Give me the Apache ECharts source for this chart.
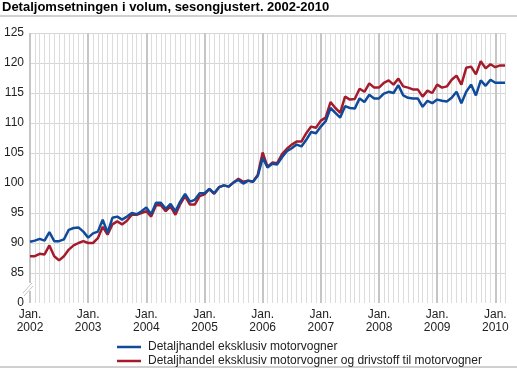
<!DOCTYPE html>
<html><head><meta charset="utf-8">
<script src="https://cdn.jsdelivr.net/npm/echarts@6/dist/echarts.min.js"></script>
<style>html,body{margin:0;padding:0;background:#fff}#c{width:517px;height:371px}</style>
</head><body><div id="c"></div>
<script>
const titleText = 'Detaljomsetningen i volum, sesongjustert. 2002-2010';
const years = [2002, 2003, 2004, 2005, 2006, 2007, 2008, 2009, 2010];
const lastMonth2010 = 3;
const yTicks = [0, 85, 90, 95, 100, 105, 110, 115, 120, 125];
const nameBlue = 'Detaljhandel eksklusiv motorvogner';
const nameRed = 'Detaljhandel eksklusiv motorvogner og drivstoff til motorvogner';

// Monthly values, Jan 2002 - Mar 2010
const blueValues = [
  90.2, 90.4, 90.7, 90.4, 91.8, 90.3, 90.3, 90.6, 92.2, 92.5, 92.6, 91.9,
  90.9, 91.6, 91.9, 93.9, 91.7, 94.2, 94.4, 93.9, 94.4, 95.0, 94.8, 95.3,
  95.9, 94.8, 96.7, 96.7, 95.7, 96.5, 95.3, 96.9, 98.2, 96.9, 97.2, 98.3,
  98.3, 99.0, 98.3, 99.3, 99.6, 99.4, 100.1, 100.5, 99.9, 100.4, 100.2, 101.2,
  104.2, 102.6, 103.2, 103.1, 104.3, 105.3, 105.8, 106.4, 106.1, 107.2, 108.5, 108.3,
  109.4, 110.3, 112.5, 111.7, 110.9, 112.8, 112.5, 112.4, 114.1, 113.5, 114.7, 114.1,
  114.1, 114.9, 115.2, 115.0, 116.3, 114.6, 114.2, 114.1, 114.1, 112.7, 113.7, 113.3,
  113.9, 113.7, 113.6, 114.2, 115.2, 113.3, 115.2, 116.4, 114.6, 117.1, 116.2, 117.2,
  116.7, 116.7, 116.7
];
const redValues = [
  87.8, 87.8, 88.2, 88.1, 89.6, 87.8, 87.1, 87.8, 88.9, 89.6, 90.0, 90.3,
  90.0, 90.0, 90.8, 92.7, 91.4, 93.1, 93.6, 93.1, 93.7, 94.7, 94.7, 95.0,
  95.3, 94.4, 96.3, 96.3, 95.3, 96.1, 94.7, 96.5, 97.8, 96.4, 96.4, 97.8,
  98.1, 99.0, 98.2, 99.3, 99.6, 99.4, 100.1, 100.7, 100.2, 100.4, 100.2, 101.4,
  105.1, 102.7, 103.4, 103.3, 104.8, 105.7, 106.4, 106.9, 106.9, 108.3, 109.4, 109.2,
  110.4, 110.9, 113.5, 112.5, 111.7, 114.4, 113.9, 114.0, 115.7, 115.2, 116.6, 115.9,
  115.9, 116.7, 117.1, 116.4, 117.4, 116.1, 115.9, 115.6, 115.6, 114.4, 115.4, 115.0,
  116.4, 115.9, 116.1, 117.2, 117.9, 116.4, 119.2, 119.4, 118.1, 120.3, 119.1, 119.8,
  119.3, 119.6, 119.6
];

const categories = [];
years.forEach(y => {
  const n = y === 2010 ? lastMonth2010 : 12;
  for (let m = 1; m <= n; m++) categories.push(y + '-' + (m < 10 ? '0' + m : m));
});

const axisMin = 80; // stands for the broken-axis "0"
const font = "'Liberation Sans', Arial, sans-serif";
const chart = echarts.init(document.getElementById('c'), null, {renderer: 'canvas'});
const isJan = i => i % 12 === 0;
const blue = '#0f4a9b', red = '#a51b2c';

const legendBase = {
  orient: 'horizontal', left: 112, itemGap: 0, itemWidth: 24, itemHeight: 2.5, icon: 'rect',
  textStyle: {fontSize: 12, color: '#222', fontFamily: font, padding: [0, 0, 0, 2]}
};

chart.setOption({
  animation: false,
  backgroundColor: '#fff',
  textStyle: {fontFamily: font},
  title: {
    text: titleText, left: 2, top: 1, padding: 0,
    textStyle: {fontSize: 13, fontWeight: 'bold', color: '#000', fontFamily: font}
  },
  grid: {left: 30, right: 12, top: 33, bottom: 68, containLabel: false},
  legend: [
    Object.assign({}, legendBase, {top: 336, data: [nameBlue]}),
    Object.assign({}, legendBase, {top: 350, data: [nameRed]})
  ],
  xAxis: [{
    type: 'category', data: categories, boundaryGap: false,
    axisLine: {show: false}, axisTick: {show: false},
    axisLabel: {
      interval: (i) => isJan(i), color: '#222', fontSize: 12, lineHeight: 13, margin: 5,
      fontFamily: font,
      formatter: v => 'Jan.\n' + v.slice(0, 4)
    },
    splitLine: {show: true, interval: 0, lineStyle: {color: '#dcdcdc', width: 1}}
  }, {
    type: 'category', data: categories, boundaryGap: false, position: 'bottom',
    axisLine: {show: false}, axisTick: {show: false}, axisLabel: {show: false},
    splitLine: {show: true, interval: (i) => isJan(i), lineStyle: {color: '#c6c6c6', width: 2}}
  }],
  yAxis: {
    type: 'value', min: axisMin, max: 125, interval: 5,
    axisLine: {show: false}, axisTick: {show: false},
    axisLabel: {
      color: '#222', fontSize: 12, margin: 6, fontFamily: font,
      formatter: v => (v === axisMin ? String(yTicks[0]) : (yTicks.indexOf(v) >= 0 ? String(v) : ''))
    },
    splitLine: {show: true, lineStyle: {
      color: ['rgba(0,0,0,0)', '#d6d6d6', '#d6d6d6', '#d6d6d6', '#d6d6d6', '#d6d6d6', '#d6d6d6', '#d6d6d6', '#d6d6d6', '#d6d6d6'],
      width: 1
    }}
  },
  series: [{
    name: nameRed, type: 'line', data: redValues, symbol: 'none', showSymbol: false,
    lineStyle: {color: red, width: 2.5}, itemStyle: {color: red}
  }, {
    name: nameBlue, type: 'line', data: blueValues, symbol: 'none', showSymbol: false,
    lineStyle: {color: blue, width: 2.5}, itemStyle: {color: blue}
  }]
});

// decorations: title rule, bottom rule, axis break mark
const x0 = chart.convertToPixel({xAxisIndex: 0}, categories[0]);
const y85 = chart.convertToPixel({yAxisIndex: 0}, 85);
const y80 = chart.convertToPixel({yAxisIndex: 0}, axisMin);
const ym = (y85 + y80) / 2;
chart.setOption({
  graphic: [
    {type: 'rect', shape: {x: 0, y: 15, width: 517, height: 2}, style: {fill: '#d0d0d0'}, silent: true},
    {type: 'rect', shape: {x: 0, y: 366, width: 517, height: 2}, style: {fill: '#d0d0d0'}, silent: true},
    {type: 'rect', shape: {x: x0 - 2, y: ym - 5, width: 4, height: 8}, style: {fill: '#fff'}, z: 100, silent: true},
    {type: 'line', shape: {x1: x0 - 7, y1: ym + 5, x2: x0 + 2, y2: ym - 5}, style: {stroke: '#c6c6c6', lineWidth: 1}, z: 101, silent: true},
    {type: 'line', shape: {x1: x0 - 6, y1: ym + 8, x2: x0 + 3, y2: ym - 2}, style: {stroke: '#c6c6c6', lineWidth: 1}, z: 101, silent: true}
  ]
});
</script>
</body></html>
